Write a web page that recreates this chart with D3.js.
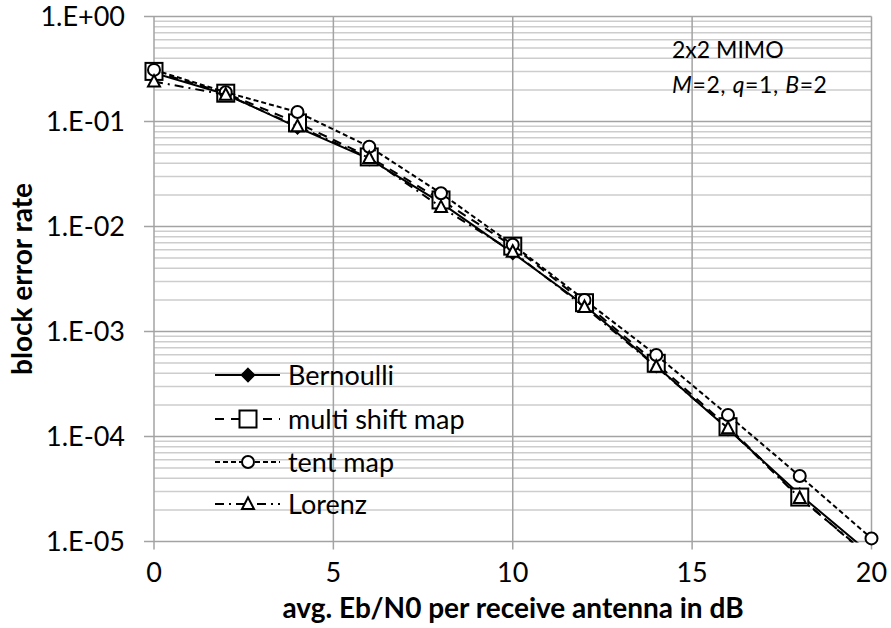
<!DOCTYPE html>
<html>
<head>
<meta charset="utf-8">
<script src="https://cdn.jsdelivr.net/npm/d3@7"></script>
<style>
  body { margin: 0; background: #fff; }
  text { font-family: Lato, "Open Sans", sans-serif; fill: #000; }
</style>
</head>
<body>
<svg id="chart" width="891" height="628"></svg>
<script>
// Eb/N0 in dB
const ebno = [0, 2, 4, 6, 8, 10, 12, 14, 16, 18, 20]

// block error rate
const bernoulli  = [0.29, 0.182, 0.088, 0.044, 0.0168, 0.0056, 0.00178, 0.00047, 0.000118, 2.8e-5, 7.5e-6]
const multiShift = [0.30, 0.186, 0.097, 0.046, 0.0179, 0.0065, 0.00188, 0.000498, 0.000124, 2.65e-5, 6.8e-6]
const tentMap    = [0.31, 0.19, 0.123, 0.0575, 0.0207, 0.0067, 0.0020, 0.000597, 0.00016, 4.2e-5, 1.07e-5]
const lorenz     = [0.24, 0.18, 0.090, 0.045, 0.0153, 0.00575, 0.00171, 0.000462, 0.00012, 2.6e-5, 7e-6]

const seriesNames = ["Bernoulli", "multi shift map", "tent map", "Lorenz"]
const xTicks = [0, 5, 10, 15, 20]
const yTicks = [1, 1e-1, 1e-2, 1e-3, 1e-4, 1e-5]
const yTickLabels = ["1.E+00", "1.E-01", "1.E-02", "1.E-03", "1.E-04", "1.E-05"]

const series = [
  {name: seriesNames[0], values: bernoulli,  dash: null,         marker: "diamond"},
  {name: seriesNames[1], values: multiShift, dash: "9,7",        marker: "square"},
  {name: seriesNames[2], values: tentMap,    dash: "5,3",        marker: "circle"},
  {name: seriesNames[3], values: lorenz,     dash: "9,5,2,5",    marker: "triangle"}
]

const plotLeft = 154, plotRight = 871.5, plotTop = 16.5, plotBottom = 541.5

const x = d3.scaleLinear().domain([0, 20]).range([plotLeft, plotRight])
const y = d3.scaleLog().domain([1, 1e-5]).range([plotTop, plotBottom])

const svg = d3.select("#chart")

svg.append("defs").append("clipPath").attr("id", "plot")
   .append("rect")
   .attr("x", plotLeft).attr("y", plotTop - 1)
   .attr("width", plotRight - plotLeft + 1).attr("height", plotBottom - plotTop + 2)

// minor horizontal grid
let minor = []
for (let e = 0; e > -5; e--) {
  for (let m = 2; m <= 9; m++) minor.push(m * Math.pow(10, e - 1))
}

svg.append("g")
   .selectAll("line")
   .data(minor)
   .enter()
   .append("line")
   .attr("x1", plotLeft).attr("x2", plotRight)
   .attr("y1", d => y(d)).attr("y2", d => y(d))
   .style("stroke", "#cdcdcd")
   .style("stroke-width", 1.5)

// major horizontal grid + ticks
svg.append("g")
   .selectAll("line")
   .data(yTicks)
   .enter()
   .append("line")
   .attr("x1", plotLeft - 10).attr("x2", plotRight)
   .attr("y1", d => y(d)).attr("y2", d => y(d))
   .style("stroke", "#a3a3a3")
   .style("stroke-width", 1.5)

// vertical grid + ticks
svg.append("g")
   .selectAll("line")
   .data(xTicks)
   .enter()
   .append("line")
   .attr("x1", d => x(d)).attr("x2", d => x(d))
   .attr("y1", plotTop).attr("y2", plotBottom + 8)
   .style("stroke", "#a3a3a3")
   .style("stroke-width", 1.5)

// tick labels
svg.append("g")
   .selectAll("text")
   .data(yTicks)
   .enter()
   .append("text")
   .attr("x", 125)
   .attr("y", d => y(d))
   .attr("dy", "0.36em")
   .attr("text-anchor", "end")
   .style("font-size", "27px")
   .text((d, i) => yTickLabels[i])

svg.append("g")
   .selectAll("text")
   .data(xTicks)
   .enter()
   .append("text")
   .attr("x", d => x(d))
   .attr("y", 582)
   .attr("text-anchor", "middle")
   .style("font-size", "27px")
   .text(d => d)

// axis titles
svg.append("text")
   .attr("x", 513).attr("y", 618)
   .attr("text-anchor", "middle")
   .style("font-size", "28px")
   .style("font-weight", "bold")
   .text("avg. Eb/N0 per receive antenna in dB")

svg.append("text")
   .attr("transform", "translate(32," + ((plotTop + plotBottom) / 2) + ") rotate(-90)")
   .attr("text-anchor", "middle")
   .style("font-size", "28px")
   .style("font-weight", "bold")
   .text("block error rate")

// annotation
svg.append("text")
   .attr("x", 672).attr("y", 58)
   .style("font-size", "23px")
   .text("2x2 MIMO")

let note = svg.append("text")
   .attr("x", 672).attr("y", 93)
   .style("font-size", "23px")
   .style("letter-spacing", "0.6px")
note.append("tspan").style("font-style", "italic").text("M")
note.append("tspan").text("=2, ")
note.append("tspan").style("font-style", "italic").text("q")
note.append("tspan").text("=1, ")
note.append("tspan").style("font-style", "italic").text("B")
note.append("tspan").text("=2")

// markers
function drawMarker(g, kind, cx, cy) {
  if (kind == "diamond") {
    g.append("path")
     .attr("d", d3.symbol().type(d3.symbolDiamond2).size(110)())
     .attr("transform", "translate(" + cx + "," + cy + ")")
     .style("fill", "#000").style("stroke", "#000").style("stroke-width", 1.5)
  } else if (kind == "square") {
    g.append("rect")
     .attr("x", cx - 8.5).attr("y", cy - 8.5)
     .attr("width", 17).attr("height", 17)
     .style("fill", "#fff").style("stroke", "#000").style("stroke-width", 2)
  } else if (kind == "circle") {
    g.append("circle")
     .attr("cx", cx).attr("cy", cy).attr("r", 6)
     .style("fill", "#fff").style("stroke", "#000").style("stroke-width", 2)
  } else {
    g.append("path")
     .attr("d", "M0,-6.5L6,5L-6,5Z")
     .attr("transform", "translate(" + cx + "," + cy + ")")
     .style("fill", "#fff").style("stroke", "#000").style("stroke-width", 2)
  }
}

let line = d3.line()
             .x((d, i) => x(ebno[i]))
             .y(d => y(d))

series.forEach(function(s) {

  let g = svg.append("g")

  g.append("path")
   .datum(s.values)
   .attr("d", line)
   .attr("clip-path", "url(#plot)")
   .style("fill", "none")
   .style("stroke", "#000")
   .style("stroke-width", 2)
   .style("stroke-dasharray", s.dash)

  s.values.forEach(function(v, i) {
    if (v >= 1e-5) drawMarker(g, s.marker, x(ebno[i]), y(v))
  })

})

// legend
let legendRows = [375, 419, 462, 504]

series.forEach(function(s, i) {

  let g = svg.append("g")
  let ly = legendRows[i]

  g.append("line")
   .attr("x1", 215).attr("x2", 280)
   .attr("y1", ly).attr("y2", ly)
   .style("stroke", "#000")
   .style("stroke-width", 2)
   .style("stroke-dasharray", s.dash)

  drawMarker(g, s.marker, 248, ly)

  g.append("text")
   .attr("x", 288).attr("y", ly)
   .attr("dy", "0.36em")
   .style("font-size", "27px")
   .text(s.name)

})
</script>
</body>
</html>
